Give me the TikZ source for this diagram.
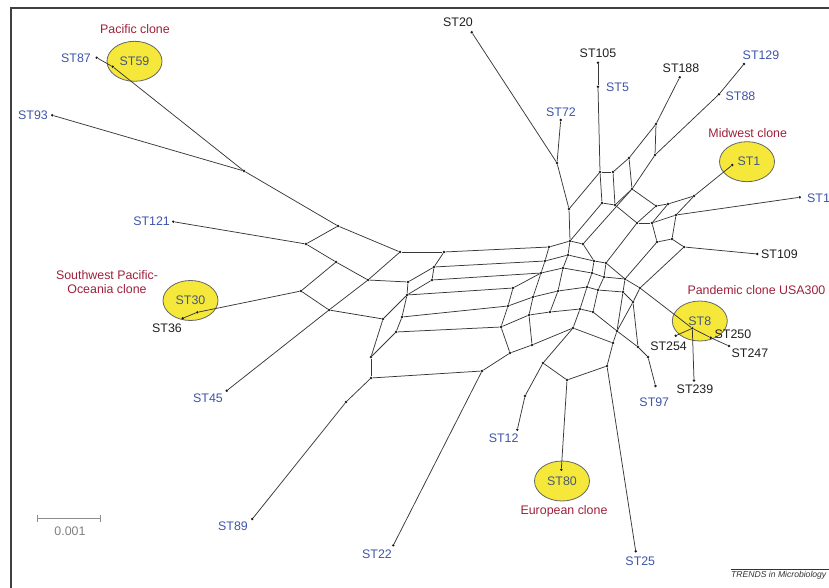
\documentclass[tikz,border=0pt]{standalone}
\usepackage{fontspec}
\setmainfont{Liberation Sans}
\usetikzlibrary{shapes.geometric}
\definecolor{stblue}{RGB}{62,84,168}
\definecolor{clred}{RGB}{158,32,58}
\definecolor{clyel}{RGB}{246,232,58}
\definecolor{intext}{RGB}{70,88,120}
\tikzset{
  dot/.style={circle,fill=black!90,inner sep=0pt,minimum size=2.7pt},
  ed/.style={draw=black!78,line width=0.75pt},
  lbl/.style={font=\fontsize{12.4}{14}\selectfont,inner sep=0pt},
  bl/.style={lbl,text=stblue},
  bk/.style={lbl,text=black!88},
  rd/.style={lbl,text=clred,align=center},
  clone/.style={ellipse,draw=black!60,fill=clyel,line width=0.8pt,minimum width=55pt,minimum height=40pt,inner sep=0pt,font=\fontsize{12.4}{14}\selectfont,text=intext}
}
\begin{document}
\begin{tikzpicture}[x=1pt,y=-1pt]
\useasboundingbox (0,0) rectangle (829,588);
\draw[black!75,line width=1.3pt] (829,8) -- (11,8) -- (11,588);
% clone ellipses
\node[clone] (e59) at (134.5,61.3) {ST59};
\node[clone] (e30) at (190.5,300.5) {ST30};
\node[clone] (e1) at (747,161.7) {\hspace{4pt}ST1};
\node[clone] (e8) at (699.8,321) {ST8};
\node[clone] (e80) at (562,481) {ST80};
% terminal dots
\foreach \n/\x/\y in {d87/96.7/57.7, d59/112.7/66.7, d93/52.3/115.3, d121/173.3/221.7, d30/197.3/312.3, d36/182.7/318.3, d45/226.7/390.7, d89/252.3/519, d22/393.3/545.3, d12/517.3/429.7, d80/561.3/469.7, d25/635.7/551.3, d97/655.5/386, d239/694/380.5, d254/675.7/335.7, d250/710.7/337.7, d247/729/346, d8/692.3/328.3, d109/757.3/254, d1x/799.7/197.3, d1/732.3/165, d129/744/64, d88/719/94.3, d188/679.7/77.3, d105/598/62.7, d5/598/86.7, d72/560.7/120, d20/471.7/32.3}
  \node[dot] (\n) at (\x,\y) {};
% internal dots
\foreach \n/\x/\y in {j0/244/171, nA/338/226, nB/306/244, nC/336/262, nD/301/291, nE/329/310, nF/400/252, nG/444/252, nH/368/280, nI/408/282, nJ/434/267, nK/432/280, nL/407/295, nM/383/319, nN/402/317, nO/396/332, nP/371/357, nQ/371/378, nR/346/402,
  g2/549/247, j2/545/261, k2/541/273, nS/513/288, nT/508/306, nU/501/327, nV/482/371, t2/533/297, u2/529/315,
  a2/570/241, a3/583/244, a4/568/255, a5/594/261, a6/606/263, a11/592/273, a12/604/277, a13/625/279, a14/640/288, a15/563/268, a19/587/287, a20/598/290, a21/558/291, a22/623/292, a23/633/302, a24/580/309, a25/593/312, a27/550/312, a30/573/328, nW/510/353, nX/532/345, a33/617/331, a34/638/347, a35/648/357, a36/613/343, a37/543/363, a38/607/366, a39/567/380, nY/525/396,
  p2/557/163, p3/569/209, p5/600/172, p6/613/172, p7/602/203, p8/615/205, p9/629/158, p10/632/189, p11/656/124, p12/655/155, p13/637/223, p14/652/223, p15/656/206, p16/668/204, p17/676/215, p18/694/196, p20/672/239, p21/657/242, p22/684/247}
  \node[dot] (\n) at (\x,\y) {};
% edges
\foreach \a/\b in {d87/d59, d59/j0, d93/j0, j0/nA, d121/nB, d36/d30, d30/nD, d45/nE, d89/nR, d22/nV, d12/nY, d80/a39, d25/a38, d97/a35, d20/p2, d72/p2, d105/d5, d5/p5, d188/p11, d129/d88, d88/p12, d1/p18, d1x/p17, d109/p22, a14/d8, d8/d250, d250/d247, d8/d254, d8/d239,
  nA/nB, nA/nF, nB/nC, nC/nH, nF/nH, nC/nD, nD/nE, nE/nH, nE/nM, nH/nI, nF/nG, nG/nJ, nI/nJ, nJ/nK, nI/nL, nL/nK, nL/nM, nL/nN, nN/nO, nM/nP, nO/nP, nP/nQ, nQ/nR,
  nG/g2, nJ/j2, nK/k2, nL/nS, nN/nT, nO/nU, nQ/nV,
  g2/j2, j2/k2, g2/a2, j2/a4, k2/a15, a2/a4, a4/a15, nS/k2, nS/nT, nT/t2, t2/k2, nT/nU, nU/u2, u2/t2, nU/nW, nV/nW, nW/nX, nX/u2, nX/a30, a37/nY,
  a2/a3, a4/a5, a15/a11, a3/a5, a5/a6, a11/a12, a6/a12, a5/a11, a12/a13, a13/a14, a6/p13, p21/a13, p22/a14, a6/a13, p10/a3,
  a11/a19, a12/a20, a19/a20, a13/a22, a14/a23, a22/a23, a20/a22,
  a15/a21, a21/a19, t2/a21, a21/a27, u2/a27, a27/a24, a19/a24, a20/a25, a24/a25, a24/a30, a30/a37,
  a25/a33, a23/a33, a22/a33, a23/a34, a33/a34, a34/a35, a33/a36, a36/a38, a30/a36, a37/a39, a38/a39,
  p2/p3, p3/a2, p3/p5, a2/p7, p5/p7, p5/p6, p7/p8, p6/p8, p6/p9, p8/p10, p9/p10, p9/p11, p10/p12, p11/p12, p8/p13, p10/p15, p13/p15, p13/p14, p15/p16, p14/p16, p14/p17, p16/p18, p17/p18, p14/p21, p17/p20, p21/p20, p20/p22}
  \draw[ed] (\a) -- (\b);
% labels
\node[bl,anchor=east] (l87) at (91,58.5) {ST87};
\node[bl,anchor=east] (l93) at (48,115.5) {ST93};
\node[bl,anchor=east] (l121) at (170,221) {ST121};
\node[bk] (l36) at (167,328) {ST36};
\node[bl,anchor=east] (l45) at (223,398) {ST45};
\node[bl] (l89) at (233,526) {ST89};
\node[bl] (l22) at (377,554) {ST22};
\node[bl] (l12) at (503.6,438) {ST12};
\node[bl] (l25) at (640.3,561.3) {ST25};
\node[bl] (l97) at (654.3,402) {ST97};
\node[bk] (l239) at (695,389.5) {ST239};
\node[bk,anchor=east] (l254) at (687,346) {ST254};
\node[bk,anchor=west] (l250) at (714.5,334) {ST250};
\node[bk,anchor=west] (l247) at (731.5,353.5) {ST247};
\node[bk,anchor=west] (l109) at (761,254.5) {ST109};
\node[bl,anchor=west] (l1x) at (807,198) {ST1};
\node[bl] (l129) at (761,55) {ST129};
\node[bl,anchor=west] (l88) at (725.5,96.7) {ST88};
\node[bk] (l188) at (681,68) {ST188};
\node[bk] (l105) at (598,53.3) {ST105};
\node[bl,anchor=west] (l5) at (606,87.3) {ST5};
\node[bl] (l72) at (561,112) {ST72};
\node[bk] (l20) at (458,22.7) {ST20};
\node[rd] (r1) at (135,29.5) {Pacific clone};
\node[rd] (r2) at (747.7,133) {Midwest clone};
\node[rd,font=\fontsize{12.4}{14.3}\selectfont] (r3) at (107,282) {Southwest Pacific-\\Oceania clone};
\node[rd,anchor=west] (r4) at (687.3,290) {Pandemic clone USA300};
\node[rd] (r5) at (564,511) {European clone};
% scale bar
\coordinate (s1) at (37.7,518);
\coordinate (s2) at (100.7,518);
\draw[black!45,line width=0.9pt] (s1) -- (s2);
\draw[black!45,line width=0.9pt] ([yshift=3.5pt]s1) -- ([yshift=-3.5pt]s1);
\draw[black!45,line width=0.9pt] ([yshift=3.5pt]s2) -- ([yshift=-3.5pt]s2);
\node[lbl,text=black!50] (sc) at (70,531.5) {0.001};
% journal mark
\draw[black!80,line width=0.6pt] (730.7,569.7) -- (829,569.7);
\node[anchor=west,inner sep=0pt,font=\fontsize{8.6}{10}\selectfont\itshape,text=black!80] (tr) at (731,575.5) {TRENDS in Microbiology};
\end{tikzpicture}
\end{document}
